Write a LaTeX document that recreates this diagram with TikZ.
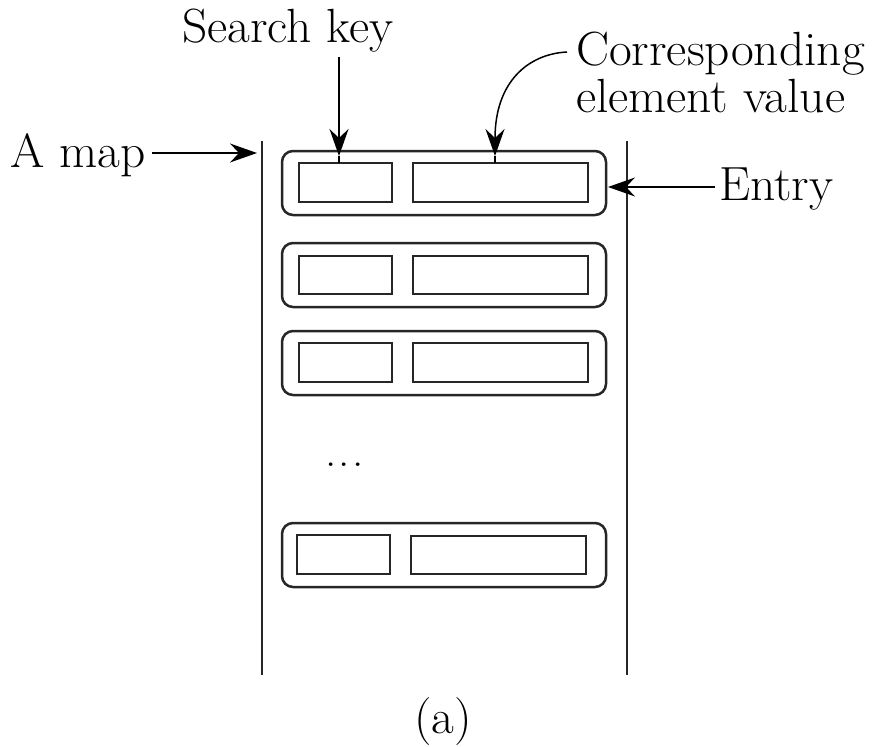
\documentclass[tikz,border=0pt]{standalone}
\usepackage{fontspec}
\setmainfont{Latin Modern Roman}[FakeStretch=1.03]
\usetikzlibrary{arrows.meta}
\begin{document}
\begin{tikzpicture}[x=1pt,y=-1pt,
  lbl/.style={inner sep=0pt, font=\rmfamily\fontsize{48}{56}\selectfont},
  wall/.style={line width=2pt, draw=black!85},
  entrybox/.style={line width=2.5pt, draw=black!85, rounded corners=11pt},
  fieldbox/.style={line width=2pt, draw=black!85},
  arr/.style={line width=1.5pt, -{Stealth[length=27pt,width=19pt,inset=9pt]}},
  plain/.style={line width=1.5pt}]
\useasboundingbox (0,0) rectangle (873,747);
% walls
\coordinate (lt) at (262,141); \coordinate (lb) at (262,675);
\coordinate (rt) at (627,141); \coordinate (rb) at (627,675);
\draw[wall] (lt) -- (lb);
\draw[wall] (rt) -- (rb);
% entries
\draw[entrybox] (282,151) rectangle (606,215);
\draw[fieldbox] (299,163) rectangle (392,202);
\draw[fieldbox] (413,163) rectangle (588,202);
\draw[entrybox] (282,243) rectangle (606,307);
\draw[fieldbox] (299,256) rectangle (392,294);
\draw[fieldbox] (413,256) rectangle (588,294);
\draw[entrybox] (282,331) rectangle (606,395);
\draw[fieldbox] (299,343) rectangle (392,382);
\draw[fieldbox] (413,343) rectangle (588,382);
\draw[entrybox] (282,523) rectangle (606,587);
\draw[fieldbox] (297,535) rectangle (390,574);
\draw[fieldbox] (411,536) rectangle (586,574);
\node[inner sep=0pt, font=\rmfamily\fontsize{44}{48}\selectfont, anchor=base] (dots) at (344.5,466) {.\kern2.3pt.\kern2.3pt.};
% labels
\node[lbl, anchor=base west] (sk) at (182,42) {Search key};
\node[lbl, anchor=base west] (corr) at (576,65) {Corresponding};
\node[lbl, anchor=base west] (elv) at (576,112) {element value};
\node[lbl, anchor=base west] (amap) at (10,167) {A map};
\node[lbl, anchor=base west] (entry) at (719,200) {Entry};
\node[lbl, anchor=base] (cap) at (443,733) {(a)};
% connectors
\coordinate (skS) at (339,57);
\coordinate (skT) at (339,156);
\coordinate (skE) at (339,163);
\draw[arr] (skS) -- (skT);
\draw[plain] (skT) -- (skE);
\coordinate (cvS) at (567,52);
\coordinate (cvT) at (495,156);
\coordinate (cvE) at (495,163);
\draw[arr] (cvS) .. controls (528,54) and (495,82) .. (cvT);
\draw[plain] (cvT) -- (cvE);
\coordinate (amS) at (152,153);
\coordinate (amT) at (257,153);
\draw[arr] (amS) -- (amT);
\coordinate (enS) at (715,187);
\coordinate (enT) at (608,187);
\draw[arr] (enS) -- (enT);
\end{tikzpicture}
\end{document}
